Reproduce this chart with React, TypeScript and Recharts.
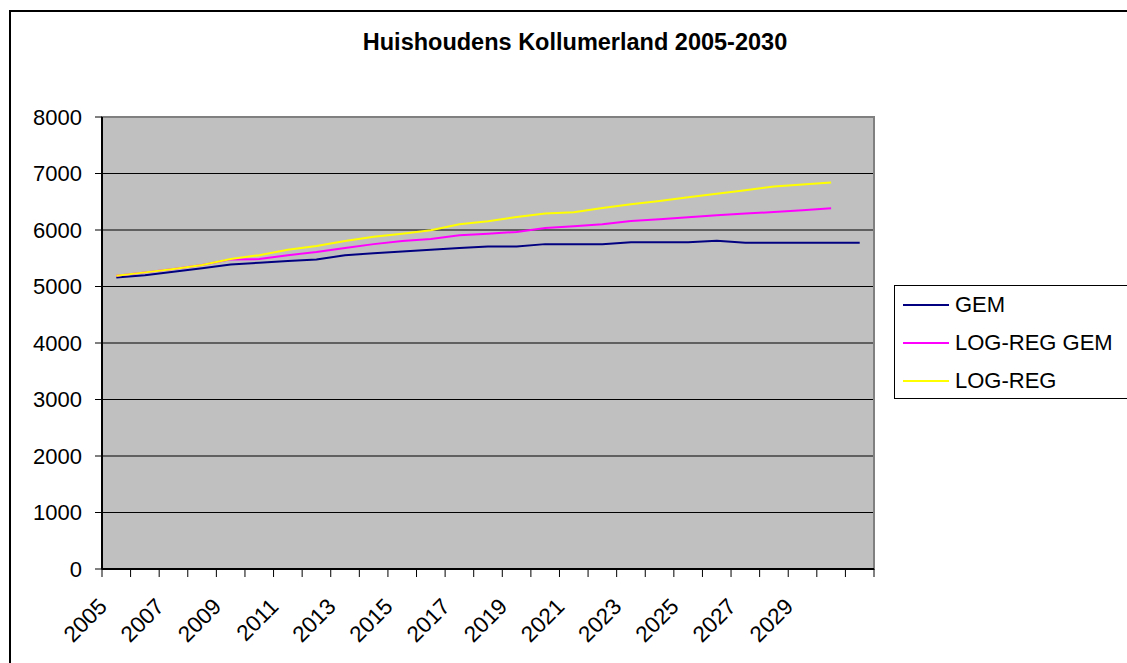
import { LineChart, Line, XAxis, YAxis, CartesianGrid, Legend, ReferenceArea } from "recharts";

const years = [
  "2005", "2006", "2007", "2008", "2009", "2010", "2011", "2012", "2013",
  "2014", "2015", "2016", "2017", "2018", "2019", "2020", "2021", "2022",
  "2023", "2024", "2025", "2026", "2027", "2028", "2029", "2030", "",
];

const gem = [
  5160, 5200, 5260, 5325, 5390, 5420, 5450, 5480, 5555, 5590, 5620, 5650, 5680,
  5710, 5710, 5750, 5750, 5750, 5785, 5785, 5785, 5810, 5775, 5775, 5775, 5775, 5775,
];

const logRegGem = [
  5190, 5250, 5310, 5380, 5480, 5485, 5555, 5610, 5680, 5750, 5805, 5840, 5905,
  5935, 5965, 6035, 6065, 6100, 6160, 6190, 6225, 6260, 6290, 6320, 6350, 6385,
];

const logReg = [
  5190, 5250, 5310, 5380, 5485, 5555, 5650, 5715, 5805, 5880, 5935, 5995, 6100,
  6155, 6230, 6290, 6315, 6390, 6455, 6515, 6580, 6640, 6705, 6770, 6805, 6840,
];

const yTicks = [0, 1000, 2000, 3000, 4000, 5000, 6000, 7000, 8000];

const series = [
  { key: "gem", name: "GEM", color: "#000080" },
  { key: "logRegGem", name: "LOG-REG GEM", color: "#FF00FF" },
  { key: "logReg", name: "LOG-REG", color: "#FFFF00" },
];

const data = years.map((year, i) => ({
  year,
  gem: gem[i],
  logRegGem: logRegGem[i],
  logReg: logReg[i],
}));

const FONT = "'Liberation Sans', Arial, sans-serif";
const W = 1127;
const H = 663;
const margin = { top: 117, right: 253, bottom: 34, left: 22 };
const Y_AXIS_W = 80;
const X_AXIS_H = 60;
const plotWidth = W - margin.left - margin.right - Y_AXIS_W;
const band = plotWidth / years.length;

function YearTick(props: any) {
  const { x, y, payload, index } = props;
  const label = payload.value;
  const tx = x - 8;
  const ty = y + 31;
  return (
    <g>
      <line x1={x - band / 2} y1={y - 8} x2={x - band / 2} y2={y} stroke="#000" />
      {index === years.length - 1 && (
        <line x1={x + band / 2} y1={y - 8} x2={x + band / 2} y2={y} stroke="#000" />
      )}
      {index % 2 === 0 && label && (
        <text
          x={tx}
          y={ty}
          textAnchor="end"
          transform={`rotate(-45 ${tx} ${ty})`}
          fontSize={22.5}
          fontFamily={FONT}
          fill="#000"
        >
          {label}
        </text>
      )}
    </g>
  );
}

function LegendBox() {
  return (
    <div
      style={{
        width: 240,
        height: 114,
        border: "1px solid #000",
        background: "#fff",
        fontFamily: FONT,
        fontSize: 22,
        boxSizing: "border-box",
        paddingTop: 0,
      }}
    >
      {series.map((s) => (
        <div key={s.key} style={{ display: "flex", alignItems: "center", height: 38 }}>
          <div style={{ width: 46, height: 2, background: s.color, marginLeft: 8, marginRight: 6 }} />
          <span style={{ color: "#000" }}>{s.name}</span>
        </div>
      ))}
    </div>
  );
}

export default function App() {
  return (
    <div style={{ position: "absolute", left: 0, top: 0, width: W, height: H, overflow: "hidden", background: "#fff" }}>
      <div
        style={{
          position: "absolute",
          left: 9,
          top: 10,
          width: W + 20,
          height: H + 20,
          border: "2px solid #000",
        }}
      />
      <div
        style={{
          position: "absolute",
          left: 275,
          top: 31,
          width: 600,
          textAlign: "center",
          fontFamily: FONT,
          fontWeight: "bold",
          fontSize: 23.5,
          lineHeight: "23px",
          whiteSpace: "nowrap",
        }}
      >
        Huishoudens Kollumerland 2005-2030
      </div>
      <div style={{ position: "absolute", left: 0, top: 0 }}>
        <LineChart width={W} height={H} data={data} margin={margin}>
          <CartesianGrid vertical={false} stroke="#000" fill="#C0C0C0" fillOpacity={1} />
          <ReferenceArea y1={0} y2={8000} fill="none" stroke="#808080" strokeWidth={2} />
          <XAxis
            dataKey="year"
            scale="band"
            height={X_AXIS_H}
            interval={0}
            tickSize={8}
            tickMargin={0}
            tickLine={false}
            axisLine={{ stroke: "#000", strokeWidth: 2 }}
            tick={<YearTick />}
          />
          <YAxis
            width={Y_AXIS_W}
            domain={[0, 8000]}
            ticks={yTicks}
            interval={0}
            tickSize={7}
            tickMargin={13}
            axisLine={{ stroke: "#000", strokeWidth: 2 }}
            tickLine={{ stroke: "#000" }}
            tick={{ fill: "#000", fontSize: 22, fontFamily: FONT }}
          />
          {series.map((s) => (
            <Line
              key={s.key}
              type="linear"
              dataKey={s.key}
              name={s.name}
              stroke={s.color}
              strokeWidth={2}
              dot={false}
              activeDot={false}
              isAnimationActive={false}
            />
          ))}
          <Legend
            layout="horizontal"
            verticalAlign="middle"
            align="center"
            wrapperStyle={{ left: 894, top: 285, width: 240, height: 114 }}
            content={<LegendBox />}
          />
        </LineChart>
      </div>
    </div>
  );
}
